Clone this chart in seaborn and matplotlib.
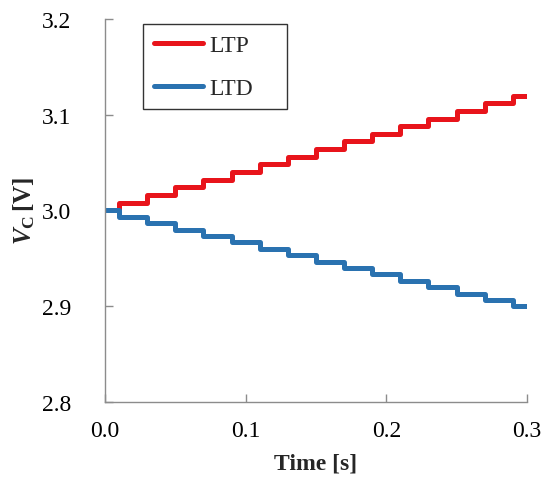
import matplotlib
matplotlib.use("Agg")
import matplotlib.pyplot as plt
import seaborn as sns
import pandas as pd

# Data (step levels, changes at each pulse time)
step_times = [0.00, 0.01, 0.03, 0.05, 0.07, 0.09, 0.11, 0.13, 0.15,
              0.17, 0.19, 0.21, 0.23, 0.25, 0.27, 0.29, 0.30]
ltp_levels = [3.000, 3.008, 3.016, 3.024, 3.032, 3.040, 3.048, 3.056, 3.064,
              3.072, 3.080, 3.088, 3.096, 3.104, 3.112, 3.120, 3.120]
ltd_levels = [3.000, 2.9933, 2.9867, 2.9800, 2.9733, 2.9667, 2.9600, 2.9533,
              2.9467, 2.9400, 2.9333, 2.9267, 2.9200, 2.9133, 2.9067, 2.9000, 2.9000]
series_names = ["LTP", "LTD"]
series_colors = ["#E8141B", "#2A72B0"]
x_ticks = [0.0, 0.1, 0.2, 0.3]
y_ticks = [2.8, 2.9, 3.0, 3.1, 3.2]

df = pd.DataFrame({
    "Time": step_times + step_times,
    "Vc": ltp_levels + ltd_levels,
    "Series": [series_names[0]] * len(step_times) + [series_names[1]] * len(step_times),
})

sns.set_style("white")
plt.rcParams["font.family"] = ["Liberation Serif", "DejaVu Serif"]
plt.rcParams["mathtext.fontset"] = "custom"
plt.rcParams["mathtext.rm"] = "Liberation Serif"
plt.rcParams["mathtext.it"] = "Liberation Serif:italic"
plt.rcParams["mathtext.bf"] = "Liberation Serif:bold"
plt.rcParams["mathtext.bfit"] = "Liberation Serif:bold:italic"

fig = plt.figure(figsize=(5.41, 4.85), dpi=100)
ax = fig.add_axes([0.194, 0.169, 0.780, 0.790])

sns.lineplot(data=df, x="Time", y="Vc", hue="Series",
             palette=dict(zip(series_names, series_colors)),
             drawstyle="steps-post", linewidth=3.6, ax=ax, legend=True,
             estimator=None, sort=False)

ax.set_xlim(0.0, 0.3)
ax.set_ylim(2.8, 3.2)
ax.set_xticks(x_ticks)
ax.set_yticks(y_ticks)
ax.set_xticklabels([f"{v:.1f}" for v in x_ticks])
ax.set_yticklabels([f"{v:.1f}" for v in y_ticks])

for s in ["top", "right"]:
    ax.spines[s].set_visible(False)
for s in ["left", "bottom"]:
    ax.spines[s].set_color("#8C8C8C")
    ax.spines[s].set_linewidth(1.0)

ax.tick_params(axis="both", direction="in", length=6, width=1.0,
               color="#8C8C8C", labelsize=17, labelcolor="black")
ax.tick_params(axis="y", pad=24, left=True)
ax.tick_params(axis="x", pad=13, bottom=True)

ax.set_xlabel("Time [s]", fontsize=17, fontweight="bold", labelpad=8)
ax.set_ylabel(r"$\mathbfit{V}_{\mathbf{C}}\,\mathbf{[V]}$", fontsize=18, labelpad=4)

leg = ax.legend(loc="upper left", bbox_to_anchor=(0.09, 0.3, 0.341, 0.687),
                mode="expand", fontsize=17,
                frameon=True, fancybox=False, edgecolor="black",
                handlelength=2.1, handletextpad=0.25, labelspacing=0.9,
                borderpad=0.45, borderaxespad=0.0, title=None)
leg.get_frame().set_linewidth(1.0)
for h in leg.get_lines():
    h.set_linewidth(3.6)

fig.savefig("out.png", dpi=100)
